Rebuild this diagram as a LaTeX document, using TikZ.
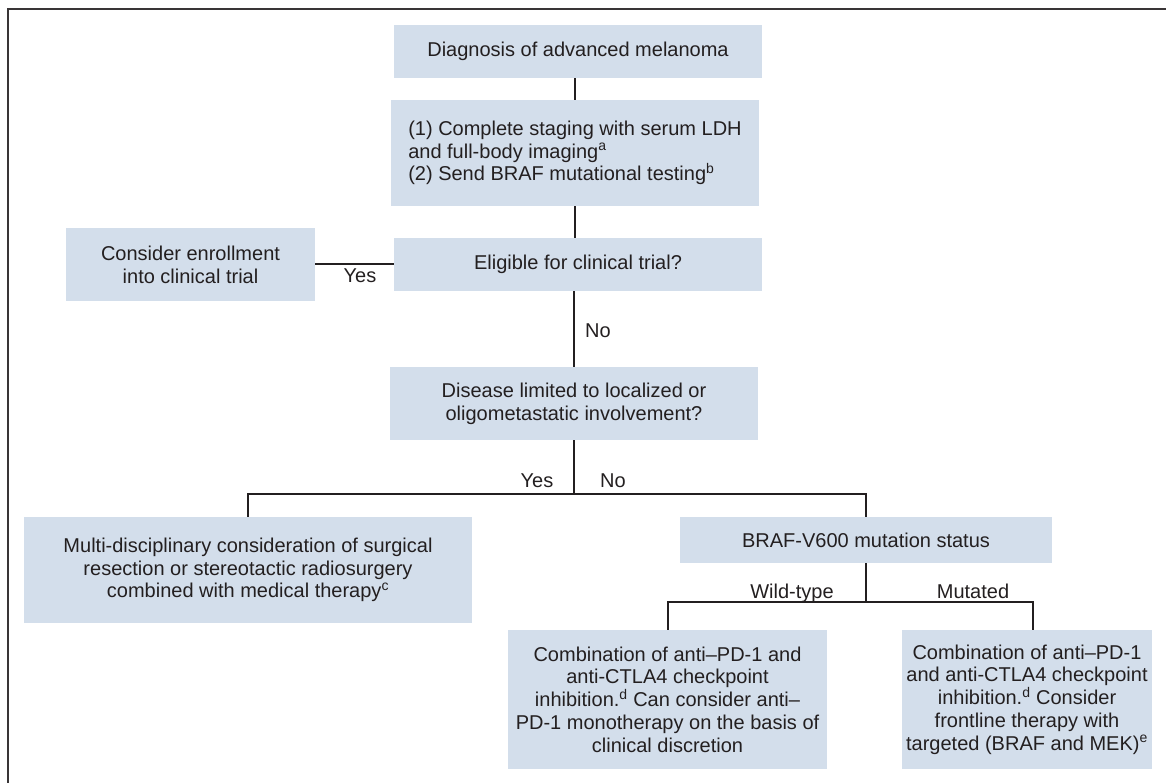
\documentclass[tikz,border=0pt]{standalone}
\usepackage{fontspec}
\setmainfont{Liberation Sans}
\usepackage{xcolor}
\definecolor{boxblue}{HTML}{D3DEEB}
\definecolor{inkgray}{HTML}{231F20}
\usetikzlibrary{calc}

\begin{document}
\begin{tikzpicture}[x=1pt,y=-1pt,
    box/.style={fill=boxblue, inner sep=0pt, align=center, text=inkgray,
      font=\fontsize{20}{22.8}\selectfont},
    link/.style={draw=inkgray, line width=2pt},
    lab/.style={text=inkgray, inner sep=0pt, anchor=base, font=\fontsize{20}{22.8}\selectfont}]
      %
      \useasboundingbox (0,0) rectangle (1166,783);
      \draw[draw=inkgray!90, line width=2.4pt] (8,790) -- (8,9) -- (1170,9);

      % main column
      \node[box, minimum width=368, minimum height=53] (diag) at (578,51.5)
        {Diagnosis of advanced melanoma};
      \node[box, minimum width=368, minimum height=106, align=left] (stage) at (575,153)
        {(1) Complete staging with serum LDH\\and full-body imaging\textsuperscript{a}\\(2) Send BRAF mutational testing\textsuperscript{b}};
      \node[box, minimum width=368, minimum height=53] (trial) at (578,264.5)
        {Eligible for clinical trial?};
      \node[box, minimum width=249, minimum height=73] (enroll) at (190.5,264.5)
        {Consider enrollment\\into clinical trial};
      \node[box, minimum width=368, minimum height=73] (disease) at (574,403.5)
        {Disease limited to localized or\\oligometastatic involvement?};

      % second level
      \node[box, minimum width=448, minimum height=106] (multi) at (248,570)
        {Multi-disciplinary consideration of surgical\\resection or stereotactic radiosurgery\\combined with medical therapy\textsuperscript{c}};
      \node[box, minimum width=372, minimum height=46] (braf) at (866,540)
        {BRAF-V600 mutation status};

      % third level
      \node[box, minimum width=319, minimum height=139] (wild) at (667.5,699.5)
        {Combination of anti--PD-1 and\\anti-CTLA4 checkpoint\\inhibition.\textsuperscript{d} Can consider anti--\\PD-1 monotherapy on the basis of\\clinical discretion};
      \node[box, minimum width=250, minimum height=139] (mut) at (1027,699.5)
        {Combination of anti--PD-1\\and anti-CTLA4 checkpoint\\inhibition.\textsuperscript{d} Consider\\frontline therapy with\\targeted (BRAF and MEK)\textsuperscript{e}};

      % connectors
      \draw[link] (diag.south -| stage.north) -- (stage.north);
      \draw[link] (stage.south) -- (stage.south |- trial.north);
      \draw[link] (trial.west) -- (enroll.east);
      \draw[link] (trial.south -| disease.north) -- (disease.north);
      \coordinate (split) at ($(disease.south)+(0,54)$);
      \draw[link] (disease.south) -- (split);
      \draw[link] (multi.north) |- (split) -| (braf.north);
      \coordinate (fork) at ($(braf.south)+(0,39)$);
      \draw[link] (braf.south) -- (fork);
      \draw[link] (wild.north) |- (fork) -| ([xshift=6]mut.north);

      % branch labels
      \node[lab] (yes1) at (360,283) {Yes};
      \node[lab, anchor=base west] (no1) at (585,337) {No};
      \node[lab] (yes2) at (537,487) {Yes};
      \node[lab] (no2) at (613,487) {No};
      \node[lab] (wt) at (792,598) {Wild-type};
      \node[lab] (mt) at (973,598) {Mutated};
    \end{tikzpicture}
\end{document}
